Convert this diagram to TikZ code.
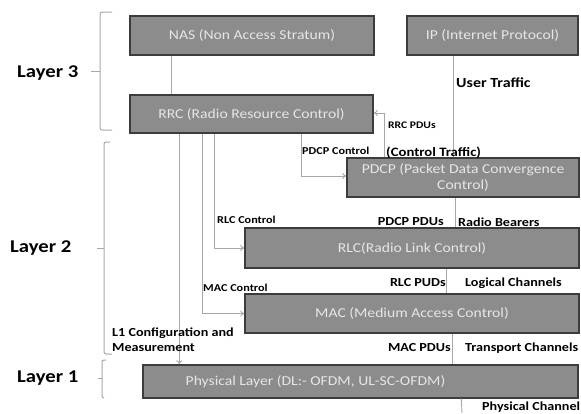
\documentclass[tikz,border=0pt]{standalone}
\usepackage{fontspec}
\setmainfont{Carlito}[FakeStretch=1.15]
\usetikzlibrary{arrows.meta}
\definecolor{boxfill}{HTML}{8C8C8C}
\definecolor{boxline}{HTML}{3C3C3C}
\definecolor{boxtext}{HTML}{E6E6E6}
\definecolor{conn}{HTML}{A8A8A8}
\tikzset{
  boxfont/.style={font=\fontsize{13.6}{16}\selectfont},
  box/.style={draw=boxline, line width=1.4pt, fill=boxfill, text=boxtext, boxfont, inner sep=0pt, align=center},
  conline/.style={draw=conn, line width=0.9pt},
  carrow/.style={conline, -{To[length=4pt,width=6pt]}},
  lbl/.style={font=\bfseries\fontsize{10.6}{12}\selectfont, inner sep=0pt, text=black},
  mlbl/.style={font=\bfseries\fontsize{12.3}{15}\selectfont, inner sep=0pt, text=black},
  blbl/.style={font=\bfseries\fontsize{13.9}{16}\selectfont, inner sep=0pt, text=black},
  layer/.style={font=\bfseries\fontsize{18}{20}\selectfont, inner sep=0pt, text=black, anchor=west},
  brace/.style={draw=conn, line width=1pt, rounded corners=2pt},
}
\begin{document}
\begin{tikzpicture}[x=1pt,y=-1pt]
\useasboundingbox[fill=white] (0,0) rectangle (581,413);
% boxes
\node[box, minimum width=244pt, minimum height=39pt] (NAS) at (252,35.5) {NAS (Non Access Stratum)};
\node[box, minimum width=171pt, minimum height=39pt] (IP) at (492.5,35.5) {IP (Internet Protocol)};
\node[box, minimum width=243pt, minimum height=38pt] (RRC) at (251.5,114) {RRC (Radio Resource Control)};
\node[box, minimum width=232pt, minimum height=39pt] (PDCP) at (463,177.5) {PDCP (Packet Data Convergence\\Control)};
\node[box, minimum width=334pt, minimum height=40pt] (RLC) at (412,248) {RLC(Radio Link Control)};
\node[box, minimum width=334pt, minimum height=39pt] (MAC) at (412,313.5) {MAC (Medium Access Control)};
\node[box, minimum width=435pt, minimum height=33pt,
  label={[boxfont, text=boxtext, xshift=-45pt, inner sep=0pt]center:Physical Layer (DL:- OFDM, UL-SC-OFDM)}] (PHY) at (360.5,381.5) {};
\coordinate (PCend) at (462,413);
% plain connectors
\draw[conline] ([xshift=42pt]NAS.south west) -- ([xshift=42pt]RRC.north west);
\draw[conline] ([xshift=47pt]IP.south west) -- ([xshift=107pt]PDCP.north west);
\draw[conline] ([xshift=109pt]PDCP.south west) -- ([xshift=211pt]RLC.north west);
\draw[conline] ([xshift=202pt]RLC.south west) -- ([xshift=202pt]MAC.north west);
\draw[conline] ([xshift=208pt]MAC.south west) -- ([xshift=310pt]PHY.north west);
\draw[conline] ([xshift=319pt]PHY.south west) -- (PCend);
% arrows
\draw[carrow] ([xshift=38pt]PDCP.north west) |- ([yshift=1pt]RRC.east);
\draw[carrow] ([xshift=172pt]RRC.south west) |- ([yshift=1.5pt]PDCP.west);
\draw[carrow] ([xshift=85pt]RRC.south west) |- (RLC.west);
\draw[carrow] ([xshift=73pt]RRC.south west) |- (MAC.west);
\draw[carrow] ([xshift=50pt]RRC.south west) -- ([xshift=37pt]PHY.north west);
% labels
\node[blbl, anchor=west] (ut) at (456,83) {User Traffic};
\node[lbl, anchor=west, font=\bfseries\fontsize{10.1}{12}\selectfont] (rp) at (388,125) {RRC PDUs};
\node[blbl, anchor=west, font=\bfseries\fontsize{12.8}{15}\selectfont] (ct) at (386,152.5) {(Control Traffic)};
\node[lbl, anchor=west] (pc) at (302,151) {PDCP Control};
\node[lbl, anchor=west] (rc) at (217,220) {RLC Control};
\node[lbl, anchor=west] (mc) at (203,288) {MAC Control};
\node[mlbl, anchor=west, align=left] (l1) at (112,339.5) {L1 Configuration and\\Measurement};
\node[mlbl, anchor=east] (pp) at (444,222) {PDCP PDUs};
\node[mlbl, anchor=west] (rb) at (458,222) {Radio Bearers};
\node[mlbl, anchor=east] (rlp) at (446,283) {RLC PUDs};
\node[mlbl, anchor=west] (lc) at (465,283) {Logical Channels};
\node[mlbl, anchor=east] (mp) at (451,348) {MAC PDUs};
\node[mlbl, anchor=west] (tc) at (465,348) {Transport Channels};
\node[mlbl, anchor=west] (pch) at (482,407) {Physical Channel};
% layers
\node[layer] (L3) at (17,73) {Layer 3};
\node[layer] (L2) at (10,248) {Layer 2};
\node[layer] (L1) at (17,378) {Layer 1};
% braces
\draw[brace] (112,12) -| (100,130) -- (112,130);
\draw[conn, line width=1pt] (100,71) -- (91,71);
\draw[brace] (110,142) -| (104,354) -- (112,354);
\draw[conn, line width=1pt] (104,248) -- (97,248);
\draw[brace] (106,360) -| (102,398) -- (104,398);
\draw[conn, line width=1pt] (102,378) -- (98,378);
\end{tikzpicture}
\end{document}
